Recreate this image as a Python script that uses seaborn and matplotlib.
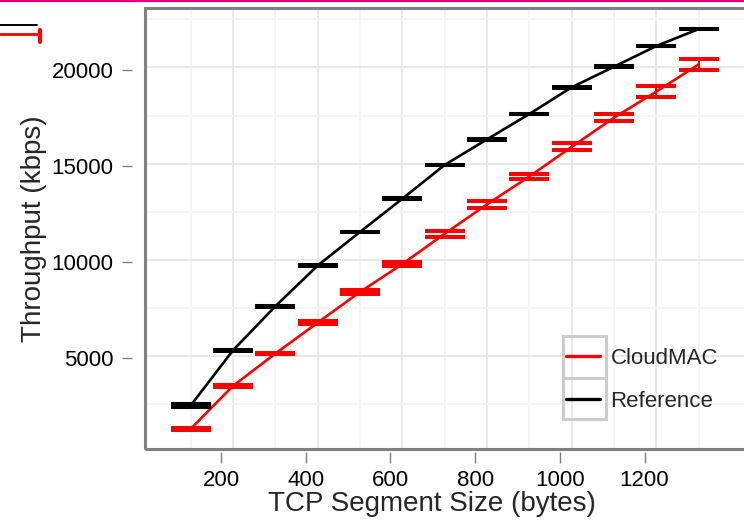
"""
Throughput vs TCP segment size, CloudMAC against the reference setup
"""

import matplotlib
matplotlib.use("Agg")
import matplotlib.pyplot as plt
import seaborn as sns
import pandas as pd
import numpy as np
from matplotlib.lines import Line2D
from matplotlib.patches import Rectangle

# values
seg_size = [128, 228, 328, 428, 528, 628, 728, 828, 928, 1028, 1128, 1228, 1328]
cloudmac_tp = [1320, 3560, 5240, 6850, 8450, 9900, 11480, 13010, 14460, 16000, 17520, 18880, 20290]
cloudmac_err = [40, 30, 20, 85, 100, 120, 147, 190, 147, 182, 190, 285, 285]
reference_tp = [2530, 5410, 7700, 9820, 11570, 13300, 15060, 16390, 17710, 19100, 20170, 21250, 22130]
reference_err = [85, 15, 15, 15, 15, 15, 15, 15, 15, 15, 15, 15, 15]

series = ["CloudMAC", "Reference"]
colors = {"CloudMAC": "#ff0000", "Reference": "#000000"}

df = pd.DataFrame({
    "size": seg_size * 2,
    "tp": cloudmac_tp + reference_tp,
    "err": cloudmac_err + reference_err,
    "series": ["CloudMAC"] * len(seg_size) + ["Reference"] * len(seg_size),
})

sns.set_style("white")
plt.rcParams["font.family"] = ["Liberation Sans", "DejaVu Sans"]

W, H = 744, 523
fig = plt.figure(figsize=(W / 100, H / 100), dpi=100)
# panel runs off the right edge like in the reference crop
ax = fig.add_axes([145 / W, 1 - 449.3 / H, (760 - 145) / W, (449.3 - 7.8) / H])
ax.set_xlim(20.5, 1472.7)
ax.set_ylim(265, 23236)

# grid (offset from the tick labels, as in the original)
for i, x in enumerate(seg_size):
    ax.axvline(x, color="#e6e6e6" if i % 2 else "#f3f3f3", lw=1.3, zorder=0)
for i, y in enumerate(np.arange(2630, 23300, 2500)):
    ax.axhline(y, color="#e6e6e6" if i % 2 else "#f3f3f3", lw=1.3, zorder=0)

sns.lineplot(data=df, x="size", y="tp", hue="series", palette=colors,
             hue_order=series, lw=1.9, legend=False, ax=ax, zorder=3)
for name in series:
    sub = df[df["series"] == name]
    ax.errorbar(sub["size"], sub["tp"], yerr=sub["err"], fmt="none",
                ecolor=colors[name], elinewidth=1.5, capsize=14.4,
                capthick=2.9, zorder=4)

# frame + ticks
for s in ax.spines.values():
    s.set_visible(False)
ax.add_patch(Rectangle((0, 0), 1, 1, transform=ax.transAxes, fill=False,
                       ec="#808080", lw=2.2, clip_on=False, zorder=6))
ax.spines["left"].set_position(("outward", 9.6))
ax.spines["bottom"].set_position(("outward", 2))
ax.set_xticks([200, 400, 600, 800, 1000, 1200])
ax.set_yticks([5000, 10000, 15000, 20000])
ax.tick_params(axis="both", direction="out", color="#808080", width=1,
               labelsize=16, labelcolor="black")
ax.tick_params(axis="x", length=8, pad=5, bottom=True)
ax.tick_params(axis="y", length=7.2, pad=6, left=True)

ax.set_xlabel("TCP Segment Size (bytes)", fontsize=20)
ax.set_ylabel("Throughput (kbps)", fontsize=20)
ax.xaxis.set_label_coords(0.4667, -0.095)
ax.yaxis.set_label_coords(-0.16, 0.5)

# legend with boxed keys
handles = [Line2D([], [], color=colors[n], lw=2.4) for n in series]
leg = ax.legend(handles, series, loc="upper left", frameon=False,
                bbox_to_anchor=(566 / W, 1 - 348 / H), bbox_transform=fig.transFigure,
                fontsize=16, handlelength=1.55, handletextpad=0.45,
                labelspacing=1.0, borderpad=0, borderaxespad=0)
for k in range(2):
    fig.add_artist(Rectangle((563 / W, 1 - (377.5 + 41.5 * k) / H), 43 / W, 41.5 / H,
                             transform=fig.transFigure, fill=False,
                             ec="#cccccc", lw=2.2))

# stray bits at the top of the crop
fig.add_artist(Line2D([0, 1], [1 - 0.8 / H] * 2, color="#e4007c", lw=1.6,
                      transform=fig.transFigure))
fig.add_artist(Line2D([0, 37 / W], [1 - 25 / H] * 2, color="black", lw=1.4,
                      transform=fig.transFigure))
fig.add_artist(Line2D([0, 40 / W], [1 - 34 / H] * 2, color="red", lw=2,
                      transform=fig.transFigure))
fig.add_artist(Line2D([40 / W] * 2, [1 - 30 / H, 1 - 42 / H], color="red", lw=3,
                      transform=fig.transFigure))

fig.savefig("out.png", dpi=100)
